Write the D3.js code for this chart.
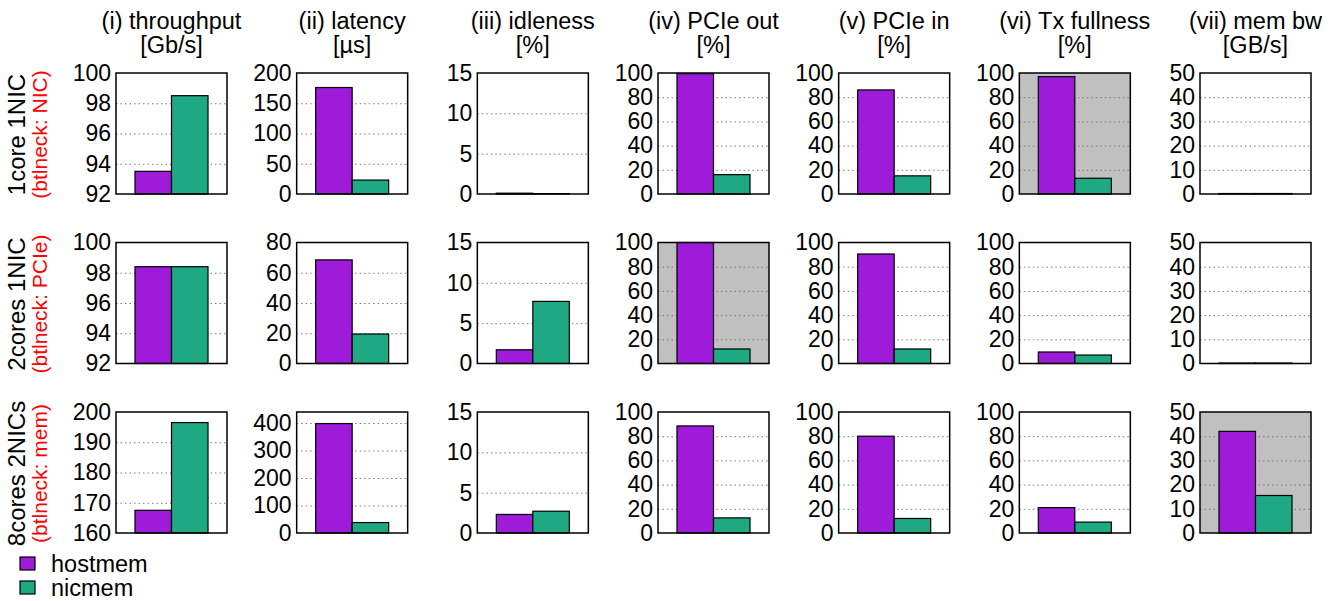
<!DOCTYPE html>
<html>
<head>
<meta charset="utf-8">
<script src="https://cdn.jsdelivr.net/npm/d3@7"></script>
<style>
  html, body { margin: 0; padding: 0; background: #fff; }
  svg { display: block; font-family: "Liberation Sans", Arial, Helvetica, sans-serif; }
</style>
</head>
<body>
<svg id="chart" width="1334" height="601"></svg>
<script>
// Metric columns
const metricNames = ["(i) throughput", "(ii) latency", "(iii) idleness", "(iv) PCIe out", "(v) PCIe in", "(vi) Tx fullness", "(vii) mem bw"];
const metricUnits = ["[Gb/s]", "[\u00b5s]", "[%]", "[%]", "[%]", "[%]", "[GB/s]"];

// Configuration rows
const configNames = ["1core 1NIC", "2cores 1NIC", "8cores 2NICs"];
const bottlenecks = ["(btlneck: NIC)", "(btlneck: PCIe)", "(btlneck: mem)"];

// Series
const seriesNames = ["hostmem", "nicmem"];
const hostmem = [
  [93.5, 176, 0.1, 99.5, 86, 97, 0.2],
  [98.4, 68.5, 1.7, 100, 90.5, 9.5, 0.2],
  [167.5, 398, 2.3, 88.5, 80, 21, 42]
];
const nicmem = [
  [98.5, 23, 0.05, 16, 15, 13, 0.2],
  [98.4, 19.5, 7.7, 12, 12, 7, 0.2],
  [196.5, 38, 2.7, 12.5, 12, 9, 15.5]
];

// Y axis ranges and tick labels per row/column
const yDomains = [
  [[92, 100], [0, 200], [0, 15], [0, 100], [0, 100], [0, 100], [0, 50]],
  [[92, 100], [0, 80], [0, 15], [0, 100], [0, 100], [0, 100], [0, 50]],
  [[160, 200], [0, 440], [0, 15], [0, 100], [0, 100], [0, 100], [0, 50]]
];
const yTicks = [
  [[92, 94, 96, 98, 100], [0, 50, 100, 150, 200], [0, 5, 10, 15], [0, 20, 40, 60, 80, 100], [0, 20, 40, 60, 80, 100], [0, 20, 40, 60, 80, 100], [0, 10, 20, 30, 40, 50]],
  [[92, 94, 96, 98, 100], [0, 20, 40, 60, 80], [0, 5, 10, 15], [0, 20, 40, 60, 80, 100], [0, 20, 40, 60, 80, 100], [0, 20, 40, 60, 80, 100], [0, 10, 20, 30, 40, 50]],
  [[160, 170, 180, 190, 200], [0, 100, 200, 300, 400], [0, 5, 10, 15], [0, 20, 40, 60, 80, 100], [0, 20, 40, 60, 80, 100], [0, 20, 40, 60, 80, 100], [0, 10, 20, 30, 40, 50]]
];

// Panels marking the bottleneck resource (row, column)
const shadedPanels = [[0, 5], [1, 3], [2, 6]];

const colors = { hostmem: "#9d1bd9", nicmem: "#1ea983" };

// Layout
const panelW = 111, panelH = 121;
const colX = d3.scaleLinear().domain([0, 6]).range([116, 1200]);
const rowY = d3.scaleLinear().domain([0, 2]).range([73, 412]);

const svg = d3.select("#chart");

// Column titles
metricNames.forEach((name, c) => {
  const cx = colX(c) + panelW / 2;
  const t = svg.append("text")
    .attr("x", cx).attr("text-anchor", "middle")
    .attr("font-size", 23.5).attr("fill", "#000");
  t.append("tspan").attr("x", cx).attr("y", 29).text(name);
  t.append("tspan").attr("x", cx).attr("y", 53).text(metricUnits[c]);
});

// Row labels
configNames.forEach((name, r) => {
  const cy = rowY(r) + panelH / 2 + 1;
  svg.append("text")
    .attr("transform", `translate(25,${cy}) rotate(-90)`)
    .attr("text-anchor", "middle").attr("font-size", 24).attr("fill", "#000")
    .text(name);
  svg.append("text")
    .attr("transform", `translate(47,${cy}) rotate(-90)`)
    .attr("text-anchor", "middle").attr("font-size", 21).attr("fill", "#ff0000")
    .text(bottlenecks[r]);
});

// Panels
for (let r = 0; r < 3; r++) {
  for (let c = 0; c < 7; c++) {
    const x0 = colX(c), y0 = rowY(r);
    const g = svg.append("g").attr("transform", `translate(${x0},${y0})`);

    const x = d3.scaleBand().domain(seriesNames).range([0, panelW])
      .paddingInner(0).paddingOuter(0.52);
    const y = d3.scaleLinear().domain(yDomains[r][c]).range([panelH, 0]);

    const shaded = shadedPanels.some(p => p[0] === r && p[1] === c);
    g.append("rect").attr("width", panelW).attr("height", panelH)
      .attr("fill", shaded ? "#c0c0c0" : "#fff");

    // dotted grid
    const grid = yTicks[r][c].filter(v => v !== yDomains[r][c][0] && v !== yDomains[r][c][1]);
    g.selectAll("line.grid").data(grid).join("line")
      .attr("class", "grid")
      .attr("x1", 0).attr("x2", panelW)
      .attr("y1", d => y(d) + 0.5).attr("y2", d => y(d) + 0.5)
      .attr("stroke", "#7a7a7a").attr("stroke-width", 1)
      .attr("stroke-dasharray", "1.5,3");

    // bars
    const vals = [
      { s: "hostmem", v: hostmem[r][c] },
      { s: "nicmem", v: nicmem[r][c] }
    ];
    const base = yDomains[r][c][0];
    g.selectAll("rect.bar").data(vals).join("rect")
      .attr("class", "bar")
      .attr("x", d => x(d.s))
      .attr("width", x.bandwidth())
      .attr("y", d => y(d.v))
      .attr("height", d => Math.max(0, y(base) - y(d.v)))
      .attr("fill", d => colors[d.s])
      .attr("stroke", "#000").attr("stroke-width", 1.2);

    // frame
    g.append("rect").attr("width", panelW).attr("height", panelH)
      .attr("fill", "none").attr("stroke", "#000").attr("stroke-width", 1.5);

    // y axis labels
    const axis = d3.axisLeft(y).tickValues(yTicks[r][c]).tickSize(0).tickPadding(5);
    const ag = g.append("g").call(axis);
    ag.select(".domain").remove();
    ag.selectAll("text").attr("font-size", 23).attr("fill", "#000")
      .attr("font-family", "Liberation Sans, Arial, sans-serif");
  }
}

// Legend
const legend = svg.append("g").attr("transform", "translate(20,557)");
seriesNames.forEach((s, i) => {
  const row = legend.append("g").attr("transform", `translate(0,${i * 24})`);
  row.append("rect").attr("x", 0).attr("y", 0).attr("width", 15).attr("height", 13)
    .attr("fill", colors[s]).attr("stroke", "#000").attr("stroke-width", 1.2);
  row.append("text").attr("x", 31).attr("y", 15).attr("font-size", 23.5).attr("fill", "#000").text(s);
});
</script>
</body>
</html>
